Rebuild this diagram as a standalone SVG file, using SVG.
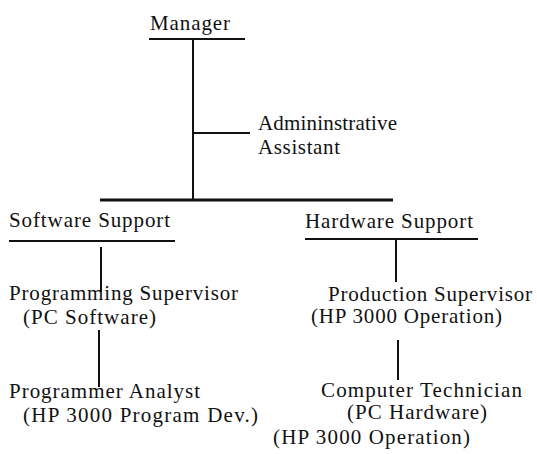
<svg xmlns="http://www.w3.org/2000/svg" width="537" height="454" viewBox="0 0 537 454">
<style>
text{font-family:"Liberation Serif","DejaVu Serif",serif;font-size:21px;fill:#111}
.ln{stroke:#111;stroke-width:2;fill:none}
.thick{stroke:#111;stroke-width:3;fill:none}
</style>
<rect width="537" height="454" fill="#fff"/>
<g id="connectors">
<line class="ln" x1="149" y1="39" x2="245" y2="39"/>
<line class="ln" x1="193" y1="39" x2="193" y2="199"/>
<line class="ln" x1="193" y1="133" x2="250" y2="133"/>
<line class="thick" x1="100" y1="200" x2="393" y2="200"/>
<line class="ln" x1="9" y1="241" x2="175" y2="241"/>
<line class="ln" x1="101" y1="247" x2="101" y2="292"/>
<line class="ln" x1="99" y1="330" x2="99" y2="387"/>
<line class="ln" x1="305" y1="239" x2="478" y2="239"/>
<line class="ln" x1="396" y1="239" x2="396" y2="282"/>
<line class="ln" x1="398" y1="340" x2="398" y2="380"/>
</g>
<g id="manager"><text x="150" y="30" textLength="80">Manager</text></g>
<g id="admin">
<text x="258" y="130" textLength="139">Admininstrative</text>
<text x="258" y="154" textLength="82">Assistant</text>
</g>
<g id="software"><text x="9" y="227" textLength="161">Software Support</text></g>
<g id="hardware"><text x="305" y="228" textLength="168">Hardware Support</text></g>
<g id="progsup">
<text x="9" y="300" textLength="229">Programming Supervisor</text>
<text x="23" y="324" textLength="133">(PC Software)</text>
</g>
<g id="proganalyst">
<text x="9" y="398" textLength="191">Programmer Analyst</text>
<text x="23" y="422" textLength="235">(HP 3000 Program Dev.)</text>
</g>
<g id="prodsup">
<text x="328" y="301" textLength="204">Production Supervisor</text>
<text x="311" y="323" textLength="191">(HP 3000 Operation)</text>
</g>
<g id="comptech">
<text x="321" y="397" textLength="201">Computer Technician</text>
<text x="347" y="419" textLength="140">(PC Hardware)</text>
<text x="273" y="444" textLength="197">(HP 3000 Operation)</text>
</g>
</svg>
